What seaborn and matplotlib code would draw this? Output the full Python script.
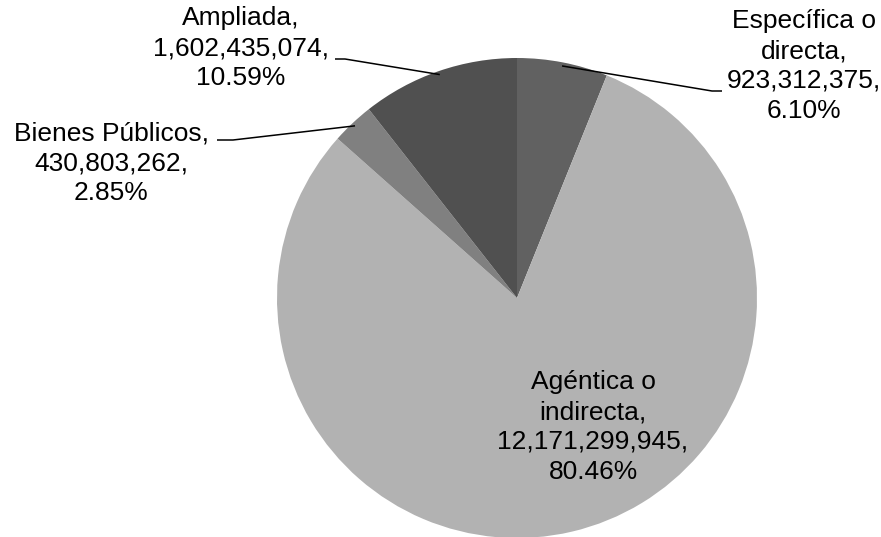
import numpy as np
import matplotlib
matplotlib.use("Agg")
import matplotlib.pyplot as plt
import seaborn as sns

# ── Data ──────────────────────────────────────────────────────────────────────
categories = ["Específica o\ndirecta", "Agéntica o\nindirecta", "Bienes Públicos", "Ampliada"]
values = [923312375, 12171299945, 430803262, 1602435074]
percents = [6.10, 80.46, 2.85, 10.59]
colors = ["#616161", "#b2b2b2", "#808080", "#505050"]

# ── Layout (pixels in the 881x537 figure, y from top) ─────────────────────────
W, H = 881, 537
CX, CY, R = 517, 298, 240
label_px = [(804, 66), (593, 427), (111, 163), (241, 48)]
# leader lines: (elbow, end) in pixels; None for label inside the pie
leader_px = [((712, 91), (722, 91)), None, ((233, 140), (217, 140)), ((345, 59), (335, 59))]


def to_data(p):
    return ((p[0] - CX) / R, (CY - p[1]) / R)


sns.set_theme(style="white")
plt.rcParams["font.family"] = ["Liberation Sans", "DejaVu Sans"]

fig = plt.figure(figsize=(W / 100, H / 100), dpi=100)
ax = fig.add_axes([0, 0, 1, 1])

wedges, _ = ax.pie(values, colors=colors, startangle=90, counterclock=False,
                   radius=1, wedgeprops=dict(linewidth=0))

ax.set_xlim(-CX / R, (W - CX) / R)
ax.set_ylim(-(H - CY) / R, CY / R)
ax.set_aspect("equal")
ax.axis("off")

for w, cat, val, pct, lp, ld in zip(wedges, categories, values, percents, label_px, leader_px):
    txt = f"{cat},\n{val:,},\n{pct:.2f}%"
    tx, ty = to_data(lp)
    ax.text(tx, ty, txt, ha="center", va="center", fontsize=19,
            linespacing=1.3, color="black", multialignment="center")
    if ld is not None:
        mid = np.deg2rad((w.theta1 + w.theta2) / 2)
        ex, ey = to_data(ld[0])
        fx, fy = to_data(ld[1])
        ax.plot([0.985 * np.cos(mid), ex, fx], [0.985 * np.sin(mid), ey, fy],
                color="black", lw=1.1, solid_capstyle="butt")

fig.savefig("out.png", dpi=100)
